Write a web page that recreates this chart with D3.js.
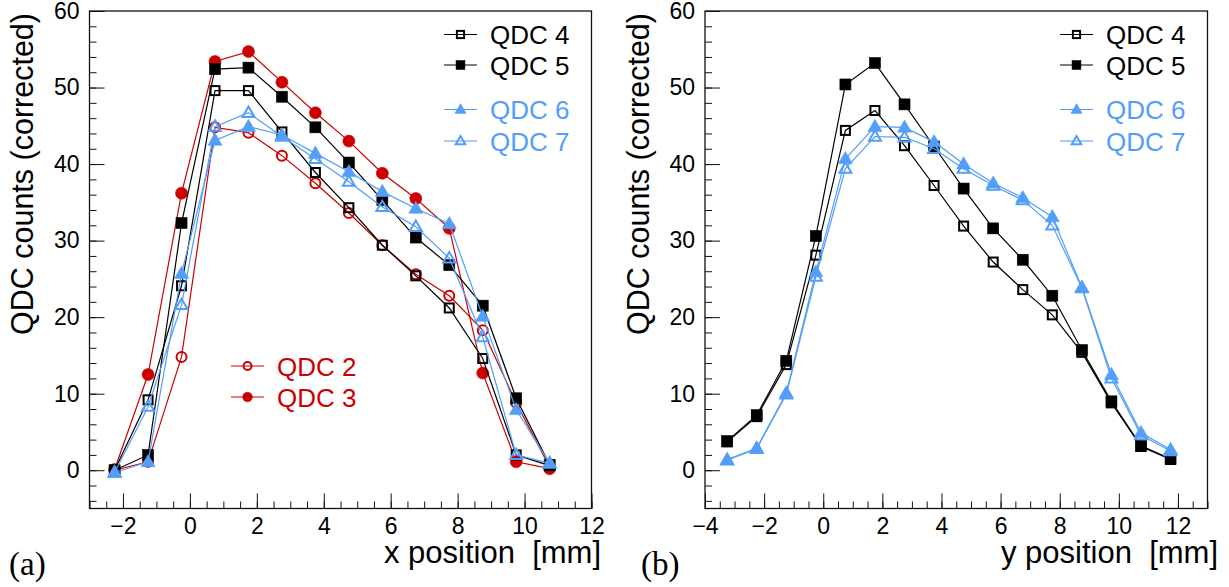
<!DOCTYPE html>
<html>
<head>
<meta charset="utf-8">
<script src="https://cdn.jsdelivr.net/npm/d3@7"></script>
<style>
  html, body { margin: 0; padding: 0; background: #fff; }
  svg { display: block; }
  text { font-family: "Liberation Sans", Arial, Helvetica, sans-serif; }
  text.tag { font-family: "Liberation Serif", "Times New Roman", serif; }
</style>
</head>
<body>
<svg id="chart" width="1229" height="587"></svg>
<script>
// ---- data -------------------------------------------------------------
// beam positions of the scan points [mm]
const xPositions = [-2.25, -1.25, -0.25, 0.75, 1.75, 2.75, 3.75, 4.75, 5.75, 6.75, 7.75, 8.75, 9.75, 10.75];
const yPositions = [-3.25, -2.25, -1.25, -0.25, 0.75, 1.75, 2.75, 3.75, 4.75, 5.75, 6.75, 7.75, 8.75, 9.75, 10.75, 11.75];

// (a) horizontal scan, corrected QDC counts
const xScanQDC2 = [0.0, 1.1, 14.8, 44.8, 44.1, 41.1, 37.5, 33.6, 29.4, 25.6, 22.8, 18.3, 8.8, 0.4];
const xScanQDC3 = [0.1, 12.5, 36.2, 53.4, 54.7, 50.7, 46.7, 43.0, 38.8, 35.5, 31.6, 12.7, 1.1, 0.2];
const xScanQDC4 = [0.0, 9.2, 24.1, 49.6, 49.6, 44.2, 38.9, 34.3, 29.4, 25.4, 21.2, 14.6, 2.0, 0.6];
const xScanQDC5 = [0.0, 2.0, 32.3, 52.4, 52.6, 48.8, 44.8, 40.2, 35.3, 30.4, 26.8, 21.5, 9.4, 0.7];
const xScanQDC6 = [-0.3, 1.1, 25.7, 43.1, 44.9, 43.8, 41.4, 39.0, 36.4, 34.2, 32.2, 20.1, 7.9, 0.9];
const xScanQDC7 = [-0.3, 8.3, 21.6, 44.9, 46.7, 43.6, 40.7, 37.7, 34.4, 31.8, 27.7, 17.4, 2.0, 0.9];

// (b) vertical scan, corrected QDC counts
const yScanQDC4 = [3.7, 7.0, 13.8, 28.1, 44.4, 47.0, 42.4, 37.2, 31.9, 27.2, 23.6, 20.3, 15.4, 8.8, 3.1, 1.4];
const yScanQDC5 = [3.8, 7.2, 14.3, 30.6, 50.4, 53.2, 47.8, 42.3, 36.8, 31.6, 27.5, 22.8, 15.7, 9.0, 3.2, 1.5];
const yScanQDC6 = [1.4, 2.9, 10.1, 25.9, 40.7, 44.9, 44.8, 42.9, 40.0, 37.5, 35.6, 33.1, 23.9, 12.5, 4.9, 2.7];
const yScanQDC7 = [1.3, 2.8, 9.9, 25.3, 39.4, 43.6, 43.5, 42.0, 39.4, 37.2, 35.3, 32.0, 23.8, 12.0, 4.6, 2.5];

// axis ticks and labels
const xTicksA = [-2, 0, 2, 4, 6, 8, 10, 12];
const xTicksB = [-4, -2, 0, 2, 4, 6, 8, 10, 12];
const yTicks = [0, 10, 20, 30, 40, 50, 60];
const yTitle = "QDC counts (corrected)";
const xTitleA = "x position\u00a0\u00a0[mm]";
const xTitleB = "y position\u00a0\u00a0[mm]";
const panelTagA = "(a)";
const panelTagB = "(b)";

// ---- styling ----------------------------------------------------------
const RED = "#cc0000";
const BLACK = "#000000";
const BLUE = "#529ef8";

const seriesA = [
  { name: "QDC 2", values: xScanQDC2, color: RED,   marker: "circle",   filled: false },
  { name: "QDC 3", values: xScanQDC3, color: RED,   marker: "circle",   filled: true },
  { name: "QDC 4", values: xScanQDC4, color: BLACK, marker: "square",   filled: false },
  { name: "QDC 5", values: xScanQDC5, color: BLACK, marker: "square",   filled: true },
  { name: "QDC 6", values: xScanQDC6, color: BLUE,  marker: "triangle", filled: true },
  { name: "QDC 7", values: xScanQDC7, color: BLUE,  marker: "triangle", filled: false }
];
const seriesB = [
  { name: "QDC 4", values: yScanQDC4, color: BLACK, marker: "square",   filled: false },
  { name: "QDC 5", values: yScanQDC5, color: BLACK, marker: "square",   filled: true },
  { name: "QDC 6", values: yScanQDC6, color: BLUE,  marker: "triangle", filled: true },
  { name: "QDC 7", values: yScanQDC7, color: BLUE,  marker: "triangle", filled: false }
];

const svg = d3.select("#chart");

// draws one marker of a given kind at the current origin of group g
function drawMarker(g, s, scale) {
  const k = scale || 1;
  if (s.marker === "square") {
    const side = (s.filled ? 11 : 9) * k;
    g.append("rect")
      .attr("x", -side / 2).attr("y", -side / 2)
      .attr("width", side).attr("height", side)
      .attr("fill", s.filled ? s.color : "#fff")
      .attr("fill-opacity", s.filled ? 1 : 0)
      .attr("stroke", s.color)
      .attr("stroke-width", s.filled ? 0.6 : 2);
  } else if (s.marker === "circle") {
    const r = (s.filled ? 6 : 5) * k;
    g.append("circle")
      .attr("r", r)
      .attr("fill", s.filled ? s.color : "none")
      .attr("stroke", s.color)
      .attr("stroke-width", s.filled ? 0.6 : 2);
  } else {
    const side = (s.filled ? 14 : 12) * k;
    const h = side * Math.sqrt(3) / 2;
    const pts = [[0, -h * 0.6], [side / 2, h * 0.4], [-side / 2, h * 0.4]];
    g.append("path")
      .attr("d", "M" + pts.map(p => p.join(",")).join("L") + "Z")
      .attr("fill", s.filled ? s.color : "none")
      .attr("stroke", s.color)
      .attr("stroke-width", s.filled ? 0.6 : 2)
      .attr("stroke-linejoin", "miter");
  }
}

function drawPanel(cfg) {
  const x = d3.scaleLinear().domain(cfg.xDomain).range([cfg.left, cfg.right]);
  const y = d3.scaleLinear().domain([-5, 60]).range([cfg.bottom, cfg.top]);
  const g = svg.append("g");

  // minor ticks
  const xMinor = d3.range(cfg.xDomain[0], cfg.xDomain[1] + 0.001, 0.5);
  const yMinor = d3.range(-4, 60.001, 2);
  g.append("g").attr("transform", `translate(0,${cfg.bottom})`)
    .call(d3.axisBottom(x).tickValues(xMinor).tickSizeInner(-7).tickSizeOuter(0).tickFormat(""))
    .call(a => a.select(".domain").remove())
    .selectAll("line").attr("stroke", "#111");
  g.append("g").attr("transform", `translate(${cfg.left},0)`)
    .call(d3.axisLeft(y).tickValues(yMinor).tickSizeInner(-7).tickSizeOuter(0).tickFormat(""))
    .call(a => a.select(".domain").remove())
    .selectAll("line").attr("stroke", "#111");

  // major ticks with labels
  const xa = g.append("g").attr("transform", `translate(0,${cfg.bottom})`)
    .call(d3.axisBottom(x).tickValues(cfg.xTicks).tickSizeInner(-15).tickSizeOuter(0).tickPadding(9));
  xa.select(".domain").remove();
  xa.selectAll("line").attr("stroke", "#111");
  xa.selectAll("text").attr("font-size", 23).attr("fill", "#000")
    .style("font-family", "'Liberation Sans', Arial, sans-serif");

  const ya = g.append("g").attr("transform", `translate(${cfg.left},0)`)
    .call(d3.axisLeft(y).tickValues(yTicks).tickSizeInner(-15).tickSizeOuter(0).tickPadding(10));
  ya.select(".domain").remove();
  ya.selectAll("line").attr("stroke", "#111");
  ya.selectAll("text").attr("font-size", 23).attr("fill", "#000")
    .style("font-family", "'Liberation Sans', Arial, sans-serif");

  // frame
  g.append("rect")
    .attr("x", cfg.left).attr("y", cfg.top)
    .attr("width", cfg.right - cfg.left).attr("height", cfg.bottom - cfg.top)
    .attr("fill", "none").attr("stroke", "#111").attr("stroke-width", 1.3);

  // series lines, then markers
  const line = d3.line().x((d, i) => x(cfg.positions[i])).y(d => y(d));
  cfg.series.forEach(s => {
    g.append("path").datum(s.values)
      .attr("d", line)
      .attr("fill", "none")
      .attr("stroke", s.color)
      .attr("stroke-width", 1.2);
    s.values.forEach((v, i) => {
      const m = g.append("g").attr("transform", `translate(${x(cfg.positions[i])},${y(v)})`);
      drawMarker(m, s, 1);
    });
  });

  // legends
  cfg.legends.forEach(L => {
    L.items.forEach((name, j) => {
      const s = cfg.series.find(d => d.name === name);
      const cy = L.rows[j];
      const lg = g.append("g");
      lg.append("line")
        .attr("x1", L.x0).attr("x2", L.x0 + 33)
        .attr("y1", cy).attr("y2", cy)
        .attr("stroke", s.color).attr("stroke-width", 1.2);
      const m = lg.append("g").attr("transform", `translate(${L.x0 + 16.5},${cy})`);
      drawMarker(m, s, 0.8);
      lg.append("text")
        .attr("x", L.x0 + 46).attr("y", cy + 9.5)
        .attr("font-size", 26).attr("fill", s.color)
        .text(s.name);
    });
  });

  // axis titles
  g.append("text")
    .attr("transform", `translate(${cfg.yTitleX},${cfg.top + 2}) rotate(-90)`)
    .attr("text-anchor", "end")
    .attr("font-size", 30.5)
    .attr("fill", "#000")
    .text(yTitle);
  g.append("text")
    .attr("x", cfg.xTitleEnd).attr("y", 563)
    .attr("text-anchor", "end")
    .attr("font-size", 31)
    .attr("fill", "#000")
    .text(cfg.xTitle);

  // panel tag
  g.append("text")
    .attr("class", "tag")
    .attr("x", cfg.tagX).attr("y", 575)
    .attr("font-size", 33)
    .attr("fill", "#000")
    .text(cfg.tag);
}

drawPanel({
  left: 89.5, right: 591.5, top: 11, bottom: 508.5,
  xDomain: [-3, 12], xTicks: xTicksA, positions: xPositions,
  series: seriesA,
  legends: [
    { x0: 444, rows: [34.5, 65, 109.5, 141], items: ["QDC 4", "QDC 5", "QDC 6", "QDC 7"] },
    { x0: 231, rows: [366, 397], items: ["QDC 2", "QDC 3"] }
  ],
  yTitleX: 33, xTitleEnd: 601, xTitle: xTitleA,
  tagX: 9, tag: panelTagA
});

drawPanel({
  left: 705, right: 1207.5, top: 11, bottom: 508.5,
  xDomain: [-4, 13], xTicks: xTicksB, positions: yPositions,
  series: seriesB,
  legends: [
    { x0: 1060, rows: [34.5, 65, 109.5, 141], items: ["QDC 4", "QDC 5", "QDC 6", "QDC 7"] }
  ],
  yTitleX: 648.5, xTitleEnd: 1218, xTitle: xTitleB,
  tagX: 641, tag: panelTagB
});
</script>
</body>
</html>
